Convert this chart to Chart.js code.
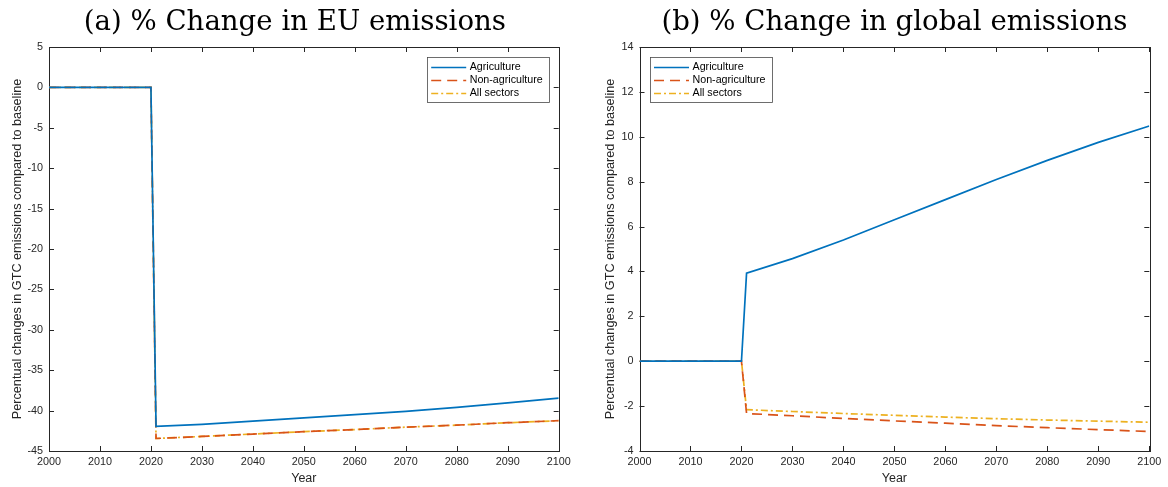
<!DOCTYPE html>
<html>
<head>
<meta charset="utf-8">
<script src="https://cdn.jsdelivr.net/npm/chart.js@4.4.1/dist/chart.umd.min.js"></script>
<style>
  html, body { margin: 0; padding: 0; background: #fff; }
  body { width: 1168px; height: 487px; position: relative; overflow: hidden; }
  canvas { position: absolute; top: 0; }
  #c1 { left: 0; }
  #c2 { left: 584px; }
</style>
</head>
<body>
<canvas id="c1" width="584" height="487"></canvas>
<canvas id="c2" width="584" height="487"></canvas>
<script>
// ---- data ----
const years = [2000, 2010, 2020, 2021, 2030, 2040, 2050, 2060, 2070, 2080, 2090, 2100];

const seriesNames = ['Agriculture', 'Non-agriculture', 'All sectors'];

const euAgriculture    = [0, 0, 0, -41.95, -41.7, -41.3, -40.9, -40.5, -40.1, -39.6, -39.05, -38.45];
const euNonAgriculture = [0, 0, 0, -43.45, -43.2, -42.9, -42.6, -42.35, -42.05, -41.8, -41.5, -41.25];
const euAllSectors     = [0, 0, 0, -43.45, -43.2, -42.9, -42.6, -42.35, -42.05, -41.8, -41.5, -41.25];

const glAgriculture    = [0, 0, 0, 3.92, 4.57, 5.4, 6.3, 7.2, 8.1, 8.95, 9.75, 10.48];
const glNonAgriculture = [0, 0, 0, -2.33, -2.43, -2.55, -2.66, -2.76, -2.87, -2.96, -3.05, -3.13];
const glAllSectors     = [0, 0, 0, -2.16, -2.24, -2.33, -2.41, -2.49, -2.56, -2.62, -2.67, -2.72];

const xTicks   = [2000, 2010, 2020, 2030, 2040, 2050, 2060, 2070, 2080, 2090, 2100];
const euYTicks = [-45, -40, -35, -30, -25, -20, -15, -10, -5, 0, 5];
const glYTicks = [-4, -2, 0, 2, 4, 6, 8, 10, 12, 14];

const titleA = '(a) % Change in EU emissions';
const titleB = '(b) % Change in global emissions';
const yLabel = 'Percentual changes in GTC emissions compared to baseline';
const xLabel = 'Year';

// ---- styling ----
const COLORS = ['#0072BD', '#D95319', '#EDB120'];
const DASHES = [[], [10, 6], [7, 3, 2, 3]];
const AXIS = '#262626';
const SANS = "'Liberation Sans', Arial, Helvetica, sans-serif";
const SERIF = "'DejaVu Serif', 'Liberation Serif', serif";

function toPoints(vals) { return years.map((y, i) => ({ x: y, y: vals[i] })); }

function makeDatasets(vals) {
  return vals.map((v, i) => ({
    label: seriesNames[i],
    data: toPoints(v),
    borderColor: COLORS[i],
    backgroundColor: COLORS[i],
    borderWidth: 1.7,
    borderDash: DASHES[i],
    pointRadius: 0,
    fill: false,
    tension: 0
  }));
}

// panel title centred over the axes
const panelTitle = {
  id: 'panelTitle',
  afterDraw(chart, args, opts) {
    const { ctx, chartArea: a } = chart;
    ctx.save();
    ctx.font = opts.size + 'px ' + SERIF;
    ctx.fillStyle = '#000';
    ctx.textAlign = 'center';
    ctx.textBaseline = 'alphabetic';
    ctx.fillText(opts.text, (a.left + a.right) / 2 + opts.dx, opts.baseline);
    ctx.restore();
  }
};

// box axes with inward ticks (MATLAB style)
const boxAxes = {
  id: 'boxAxes',
  beforeDatasetsDraw(chart) {
    const { ctx, chartArea: a, scales } = chart;
    ctx.save();
    ctx.strokeStyle = AXIS;
    ctx.lineWidth = 1;
    const L = 5;
    ctx.beginPath();
    scales.x.ticks.forEach(t => {
      const px = Math.round(scales.x.getPixelForValue(t.value)) + 0.5;
      ctx.moveTo(px, a.bottom); ctx.lineTo(px, a.bottom - L);
      ctx.moveTo(px, a.top); ctx.lineTo(px, a.top + L);
    });
    scales.y.ticks.forEach(t => {
      const py = Math.round(scales.y.getPixelForValue(t.value)) + 0.5;
      ctx.moveTo(a.left, py); ctx.lineTo(a.left + L, py);
      ctx.moveTo(a.right, py); ctx.lineTo(a.right - L, py);
    });
    ctx.stroke();
    ctx.strokeRect(Math.round(a.left) + 0.5, Math.round(a.top) + 0.5,
                   Math.round(a.right - a.left), Math.round(a.bottom - a.top));
    ctx.restore();
  }
};

// boxed legend inside the axes
const boxLegend = {
  id: 'boxLegend',
  afterDatasetsDraw(chart, args, opts) {
    const { ctx, chartArea: a } = chart;
    const w = 122, h = 45;
    const left = opts.corner === 'left' ? a.left + 10 : a.right - 10 - w;
    const top = a.top + 10;
    ctx.save();
    ctx.fillStyle = '#fff';
    ctx.fillRect(left, top, w, h);
    ctx.strokeStyle = '#4a4a4a';
    ctx.lineWidth = 0.8;
    ctx.strokeRect(Math.round(left) + 0.5, Math.round(top) + 0.5, w, h);
    ctx.font = "10.7px " + SANS;
    ctx.textBaseline = 'middle';
    ctx.fillStyle = '#000';
    chart.data.datasets.forEach((ds, i) => {
      const y = Math.round(top + 10 + i * 13.2) + 0.5;
      ctx.strokeStyle = ds.borderColor;
      ctx.lineWidth = 1.7;
      ctx.setLineDash(ds.borderDash || []);
      ctx.beginPath();
      ctx.moveTo(left + 4.5, y); ctx.lineTo(left + 39.5, y);
      ctx.stroke();
      ctx.setLineDash([]);
      ctx.fillText(ds.label, left + 43, y);
    });
    ctx.restore();
  }
};

function makeChart(id, title, titleDx, vals, yMin, yMax, yTicks, padLeft, padRight, yWidth, legendCorner) {
  return new Chart(document.getElementById(id), {
    type: 'line',
    data: { datasets: makeDatasets(vals) },
    plugins: [boxAxes, boxLegend, panelTitle],
    options: {
      responsive: false,
      animation: false,
      devicePixelRatio: 1,
      layout: { padding: { left: padLeft, right: padRight, top: 47, bottom: 0 } },
      plugins: {
        legend: { display: false },
        tooltip: { enabled: false },
        title: { display: false },
        boxLegend: { corner: legendCorner },
        panelTitle: { text: title, dx: titleDx, size: 27.6, baseline: 30 }
      },
      scales: {
        x: {
          type: 'linear',
          min: 2000, max: 2100,
          afterBuildTicks: s => { s.ticks = xTicks.map(v => ({ value: v })); },
          afterFit: s => { s.height = 36; },
          ticks: {
            autoSkip: false, maxRotation: 0, minRotation: 0,
            color: AXIS, padding: 5,
            font: { family: SANS, size: 10.8 },
            callback: v => String(v)
          },
          grid: { display: false, drawTicks: false },
          border: { display: false },
          title: {
            display: true, text: xLabel, color: AXIS,
            font: { family: SANS, size: 12.5, lineHeight: 1.2 },
            padding: { top: 0, bottom: 1 }
          }
        },
        y: {
          type: 'linear',
          min: yMin, max: yMax,
          afterBuildTicks: s => { s.ticks = yTicks.map(v => ({ value: v })); },
          afterFit: s => { s.width = yWidth; },
          ticks: {
            autoSkip: false, color: AXIS, padding: 6,
            font: { family: SANS, size: 10.8 },
            callback: v => String(v)
          },
          grid: { display: false, drawTicks: false },
          border: { display: false },
          title: {
            display: true, text: yLabel, color: AXIS,
            font: { family: SANS, size: 12.7, lineHeight: 1.2 },
            padding: { top: 9.5, bottom: 0 }
          }
        }
      }
    }
  });
}

makeChart('c1', titleA, -9, [euAgriculture, euNonAgriculture, euAllSectors], -45, 5, euYTicks, 0, 25.3, 49, 'right');
makeChart('c2', titleB, 0, [glAgriculture, glNonAgriculture, glAllSectors], -4, 14, glYTicks, 9.5, 18.7, 46, 'left');
</script>
</body>
</html>
